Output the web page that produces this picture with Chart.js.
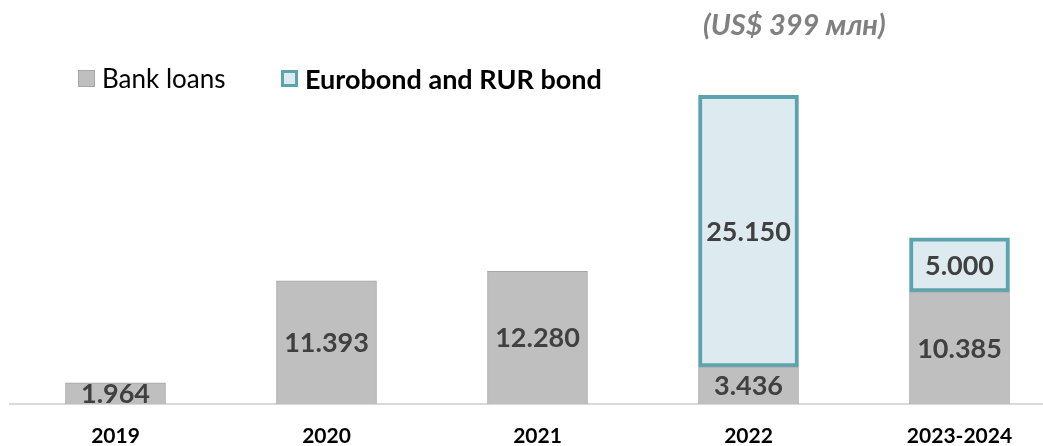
<!DOCTYPE html>
<html>
<head>
<meta charset="utf-8">
<script src="https://cdn.jsdelivr.net/npm/chart.js@4/dist/chart.umd.min.js"></script>
<style>
  html, body { margin: 0; padding: 0; background: #fff; overflow: hidden; }
  #wrap { position: relative; width: 1066px; height: 446px; }
  #titulo {
    position: absolute; left: 703px; top: 6px;
    font: italic bold 29px Lato, sans-serif; color: #808080; white-space: nowrap;
  }
  .leyenda {
    position: absolute; top: 62px; height: 32px; display: flex; align-items: center;
    font: 26px Lato, sans-serif; color: #000; white-space: nowrap;
  }
  .caja { display: inline-block; width: 17px; height: 17px; box-sizing: border-box; margin-right: 7px; }
</style>
</head>
<body>
<div id="wrap">
  <canvas id="grafico" width="1066" height="446"></canvas>
  <div id="titulo">(US$ 399 млн)</div>
  <div class="leyenda" style="left:78px">
    <span class="caja" style="background:#bfbfbf;border:1px solid #a6a6a6"></span>Bank loans
  </div>
  <div class="leyenda" style="left:281px;font-weight:bold;font-size:27px">
    <span class="caja" style="background:#ddebf0;border:3px solid #5ba3ad"></span>Eurobond and RUR bond
  </div>
</div>
<script>
var anios = ['2019', '2020', '2021', '2022', '2023-2024'];
var prestamos = [1.964, 11.393, 12.280, 3.436, 10.385];
var bonos = [null, null, null, 25.150, 5.000];

// etiquetas de valor centradas en cada segmento
var etiquetas = {
  id: 'etiquetas',
  afterDatasetsDraw: function (chart) {
    var ctx = chart.ctx;
    ctx.save();
    ctx.font = 'bold 27px Lato, sans-serif';
    ctx.fillStyle = '#404040';
    ctx.textAlign = 'center';
    ctx.textBaseline = 'middle';
    chart.data.datasets.forEach(function (ds, i) {
      chart.getDatasetMeta(i).data.forEach(function (el, j) {
        var v = ds.data[j];
        if (v == null) return;
        ctx.fillText(v.toFixed(3), el.x, (el.y + el.base) / 2 + 1);
      });
    });
    ctx.restore();
  }
};

new Chart(document.getElementById('grafico').getContext('2d'), {
  type: 'bar',
  data: {
    labels: anios,
    datasets: [
      {
        label: 'Bank loans', data: prestamos, backgroundColor: '#bfbfbf',
        borderColor: '#a6a6a6', borderWidth: 1, borderSkipped: 'bottom', barThickness: 100,
      },
      {
        label: 'Eurobond and RUR bond', data: bonos, backgroundColor: '#ddebf0',
        borderColor: '#5ba3ad', borderWidth: 4, borderSkipped: false, barThickness: 100,
      },
    ],
  },
  options: {
    responsive: false,
    animation: false,
    layout: { padding: { left: 10, right: 1, top: 0, bottom: 0 } },
    plugins: { legend: { display: false }, tooltip: { enabled: false } },
    scales: {
      x: {
        stacked: true,
        grid: { display: false, drawTicks: false },
        border: { color: '#d9d9d9', width: 2 },
        ticks: { color: '#000', padding: 20, font: { family: 'Lato', weight: 'bold', size: 21 } },
        afterFit: function (s) { s.height = 42; },
      },
      y: { stacked: true, display: false, min: 0, max: 37.4 },
    },
  },
  plugins: [etiquetas],
});
</script>
</body>
</html>
